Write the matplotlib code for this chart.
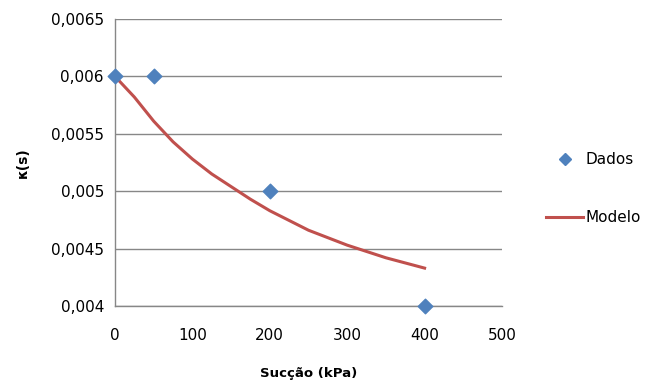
import matplotlib
matplotlib.use("Agg")
import matplotlib.pyplot as plt
from matplotlib.ticker import FuncFormatter, MultipleLocator
from matplotlib.lines import Line2D

# Data
succao_dados = [0, 50, 200, 400]
kappa_dados = [0.006, 0.006, 0.005, 0.004]

succao_modelo = [0, 25, 50, 75, 100, 125, 150, 175, 200, 250, 300, 350, 400]
kappa_modelo = [0.00600, 0.00582, 0.00561, 0.00543, 0.00528, 0.00515, 0.00504,
                0.00493, 0.00483, 0.00466, 0.00453, 0.00442, 0.00433]

x_ticks = [0, 100, 200, 300, 400, 500]

plt.rcParams['font.family'] = ['DejaVu Sans']

fig = plt.figure(figsize=(6.48, 3.83), dpi=100)
ax = fig.add_axes([115 / 648, 1 - 306 / 383, (502 - 115) / 648, (306 - 19) / 383])

grid_col = "#878787"
ax.plot(succao_modelo, kappa_modelo, color="#C0504D", linewidth=2.2, zorder=2)
ax.scatter(succao_dados, kappa_dados, marker="D", s=55, color="#4F81BD", zorder=3,
           clip_on=False)

ax.set_xlim(0, 500)
ax.set_ylim(0.004, 0.0065)
ax.set_xticks(x_ticks)
ax.yaxis.set_major_locator(MultipleLocator(0.0005))


def virgula(v, pos):
    s = ("%.4f" % v).rstrip("0")
    return s.replace(".", ",")


ax.yaxis.set_major_formatter(FuncFormatter(virgula))
ax.tick_params(axis="both", length=0, labelsize=11, colors="#000000")
ax.tick_params(axis="x", pad=16)
ax.tick_params(axis="y", pad=8)

ax.grid(axis="y", color=grid_col, linewidth=1)
ax.set_axisbelow(True)
for side in ["top", "right"]:
    ax.spines[side].set_visible(False)
for side in ["left", "bottom"]:
    ax.spines[side].set_color(grid_col)
    ax.spines[side].set_linewidth(1)

ax.set_xlabel("Sucção (kPa)", fontsize=9.5, fontweight="bold", labelpad=17)
ax.set_ylabel("κ(s)", fontsize=10, fontweight="bold", labelpad=15)

handles = [
    Line2D([], [], linestyle="none", marker="D", markersize=6, color="#4F81BD"),
    Line2D([], [], color="#C0504D", linewidth=2.2),
]
fig.legend(handles, ["Dados", "Modelo"], loc="upper left",
           bbox_to_anchor=(534 / 648, 1 - 140 / 383), frameon=False,
           fontsize=11, handlelength=2.4, handletextpad=0.2, labelspacing=2.8,
           borderpad=0.3)

fig.savefig("out.png", dpi=100)
